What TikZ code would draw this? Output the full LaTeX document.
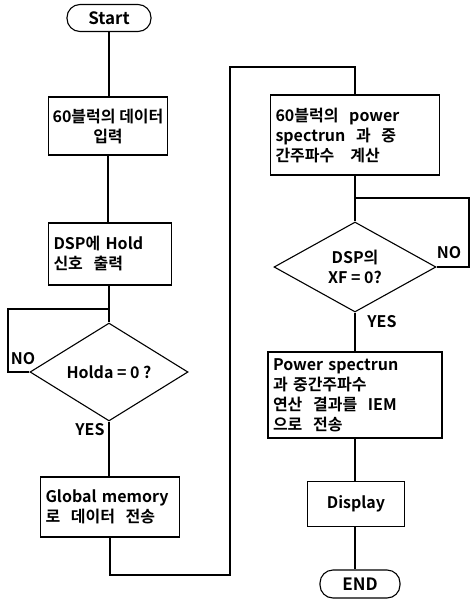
\documentclass[tikz,border=0pt]{standalone}
\usepackage{fontspec}
\setmainfont{Noto Sans CJK KR}[BoldFont={Noto Sans CJK KR Bold}]
\usetikzlibrary{shapes.geometric}

\begin{document}
\begin{tikzpicture}[x=1pt, y=-1pt, line width=1.1pt,
    every node/.style={font=\bfseries\fontsize{16}{20}\selectfont},
    box/.style={draw, rectangle, inner xsep=5pt, inner ysep=3pt, align=left},
    term/.style={draw, rectangle, rounded corners=13pt, font=\bfseries\fontsize{17}{20}\selectfont},
    cond/.style={draw, diamond, inner sep=0pt, align=center}]
    \useasboundingbox (0,0) rectangle (472,603);

    % the left column
    \node[term, minimum width=84pt, minimum height=27pt] (start) at (109,18) {Start};
    \node[box, align=center, inner xsep=2pt, minimum width=119pt, minimum height=58pt] (in1) at (108,126) {60블럭의 데이터\\입력};
    \node[box, text width=113pt, minimum height=62pt] (hold) at (110,254) {DSP에 Hold\\신호\ \ 출력};
    \node[cond, minimum width=158pt, minimum height=89pt] (dec1) at (109,372) {Holda = 0 ?};
    \node[box, text width=129pt, minimum height=60pt] (glob) at (110,507) {Global memory\\로\ \ 데이터\ \ 전송};

    % the right column
    \node[box, text width=159pt, minimum height=80pt] (spec) at (355,135) {60블럭의\ \ power\\spectrun\ \ 과\ \ 중\\간주파수\ \ \ 계산};
    \node[cond, minimum width=162pt, minimum height=90pt] (dec2) at (355,267) {DSP의\\XF = 0?};
    \node[box, text width=164pt, minimum height=86pt] (res) at (355,395) {Power spectrun\\과 중간주파수\\연산\ \ 결과를\ \ IEM\\으로\ \ 전송};
    \node[box, align=center, text width=87pt, minimum height=45pt] (disp) at (356,504) {Display};
    \node[term, minimum width=80pt, minimum height=28pt] (end) at (360,584) {END};

    % the yes / no labels
    \node (no1) at (23,359) {NO};
    \node (yes1) at (90,430) {YES};
    \node (no2) at (449,253) {NO};
    \node (yes2) at (382,322) {YES};

    % corner points of the loops
    \coordinate (noL) at (8,309);
    \coordinate (noJ) at (109,309);
    \coordinate (b1) at (110,575);
    \coordinate (b2) at (230,67);
    \coordinate (r1) at (469,198);
    \coordinate (r2) at (355,198);

    % draw the lines
    \draw (start) -- (in1.north -| start);
    \draw (in1) -- (hold.north -| in1);
    \draw (hold.south -| dec1) -- (dec1);
    \draw (dec1) -- (glob.north -| dec1);
    \draw (dec1.west) -| (noL) -- (noJ);
    \draw (glob) -- (b1) -| (b2) -| (spec.north);
    \draw (spec) -- (dec2);
    \draw (dec2.east) -| (r1) -- (r2);
    \draw (dec2) -- (res);
    \draw (res) -- (disp.north -| res);
    \draw (disp.south -| res) -- (end.north -| res);
\end{tikzpicture}
\end{document}
